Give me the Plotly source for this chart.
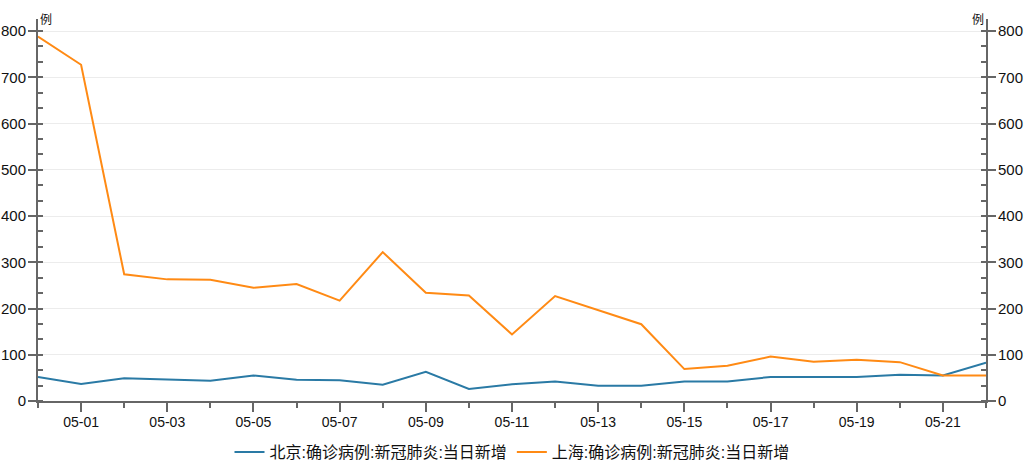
import plotly.graph_objects as go

# ─── Data ────────────────────────────────────────────────────────────────────

dates = [
    "2022-04-30", "2022-05-01", "2022-05-02", "2022-05-03", "2022-05-04",
    "2022-05-05", "2022-05-06", "2022-05-07", "2022-05-08", "2022-05-09",
    "2022-05-10", "2022-05-11", "2022-05-12", "2022-05-13", "2022-05-14",
    "2022-05-15", "2022-05-16", "2022-05-17", "2022-05-18", "2022-05-19",
    "2022-05-20", "2022-05-21", "2022-05-22",
]
beijing = [52, 37, 49, 47, 44, 55, 46, 45, 35, 63, 26, 36, 42, 33, 33,
           42, 42, 52, 52, 52, 57, 55, 83]
shanghai = [788, 727, 274, 263, 262, 245, 253, 217, 322, 234, 228, 144,
            227, 196, 166, 69, 76, 96, 85, 89, 84, 55, 55]

names = ["北京:确诊病例:新冠肺炎:当日新增", "上海:确诊病例:新冠肺炎:当日新增"]
colors = ["#2a7aa5", "#ff8a14"]
unit = "例"

# latin glyphs from Liberation Sans, CJK falls back to Noto Sans CJK
FONT = "Liberation Sans, Noto Sans CJK SC, sans-serif"
AXIS_COLOR = "#666666"
Y_RANGE = [0, 826]

fig = go.Figure()
fig.add_trace(go.Scatter(
    x=dates, y=beijing, name=names[0], mode="lines",
    line=dict(color=colors[0], width=2), yaxis="y",
))
fig.add_trace(go.Scatter(
    x=dates, y=shanghai, name=names[1], mode="lines",
    line=dict(color=colors[1], width=2), yaxis="y2",
))

yaxis_common = dict(
    range=Y_RANGE,
    tick0=0, dtick=100,
    ticks="outside", ticklen=8, tickwidth=2, tickcolor=AXIS_COLOR,
    minor=dict(dtick=100 / 3, ticks="inside", ticklen=5, tickwidth=2,
               tickcolor=AXIS_COLOR, showgrid=False),
    showline=True, linecolor=AXIS_COLOR, linewidth=2,
    tickfont=dict(size=15, color="#111111", family=FONT),
    ticklabelstandoff=-1,
    zeroline=False,
    automargin=False,
    fixedrange=True,
)

fig.update_layout(
    width=1029, height=469,
    margin=dict(l=38, r=43, t=19, b=68),
    paper_bgcolor="white",
    plot_bgcolor="white",
    font=dict(family=FONT, color="#111111"),
    showlegend=True,
    legend=dict(
        orientation="h", x=0.5, xanchor="center",
        yref="container", y=1 - 452 / 469, yanchor="middle",
        font=dict(size=16, family=FONT), itemwidth=30,
    ),
    xaxis=dict(
        type="date",
        range=[dates[0], dates[-1]],
        tick0="2022-05-01", dtick=2 * 86400000, tickformat="%m-%d",
        ticks="outside", ticklen=9, tickwidth=2, tickcolor=AXIS_COLOR,
        minor=dict(tick0=dates[0], dtick=86400000, ticks="outside",
                   ticklen=5, tickwidth=2, tickcolor=AXIS_COLOR, showgrid=False),
        showline=True, linecolor=AXIS_COLOR, linewidth=2,
        showgrid=False, zeroline=False, automargin=False,
        ticklabelstandoff=-2,
        tickfont=dict(size=14, color="#111111", family=FONT),
    ),
    yaxis=dict(side="left", showgrid=True, gridcolor="#ececec", gridwidth=1,
               **yaxis_common),
    yaxis2=dict(side="right", overlaying="y", showgrid=False, **yaxis_common),
    annotations=[
        dict(text=unit, xref="paper", yref="paper", x=0, y=1, xanchor="left",
             yanchor="middle", showarrow=False, xshift=0, yshift=-1,
             font=dict(size=12, color="#111111", family=FONT)),
        dict(text=unit, xref="paper", yref="paper", x=1, y=1, xanchor="right",
             yanchor="middle", showarrow=False, xshift=0, yshift=-1,
             font=dict(size=12, color="#111111", family=FONT)),
    ],
)

# page body has an 8px default margin; drop it so the chart sits at (0, 0)
fig.write_html("out.html", config={"displayModeBar": False},
               post_script="document.body.style.margin = '0';")
